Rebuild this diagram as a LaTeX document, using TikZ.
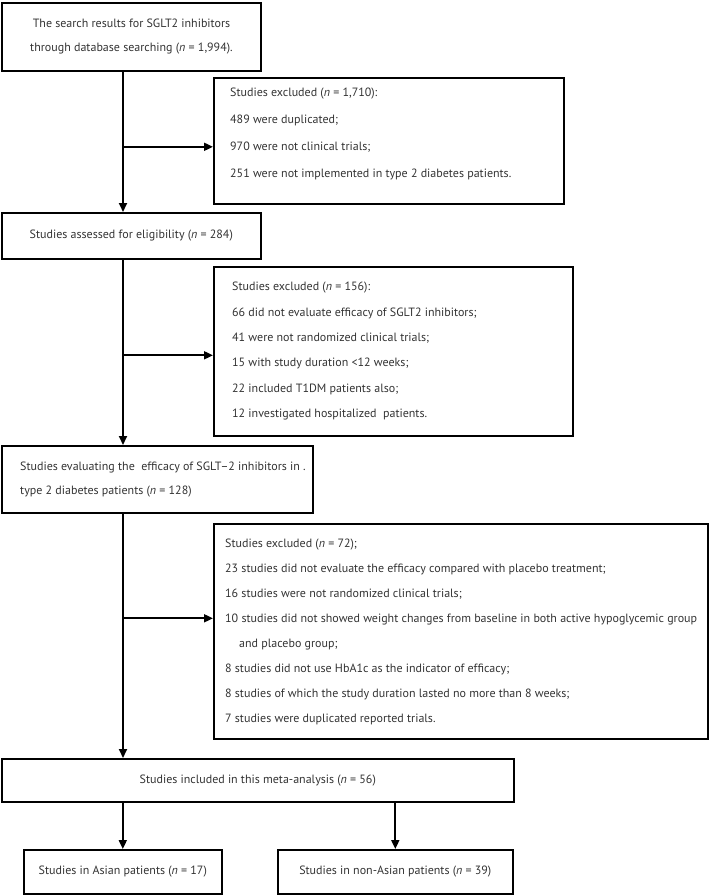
\documentclass[tikz,border=0pt]{standalone}
\usepackage{fontspec}
\setmainfont{PT Sans}
\usetikzlibrary{arrows.meta}
\tikzset{
    box/.style={draw,line width=1.6pt,inner sep=0pt,anchor=north west,text=black!80,font=\fontsize{12}{24}\selectfont},
    txt/.style={text=black!80,inner sep=0pt,anchor=north west,align=left},
    arr/.style={line width=1.8pt,-{Triangle[length=9pt,width=8pt]}},
}
\begin{document}
\begin{tikzpicture}[x=1pt,y=-1pt]
        \useasboundingbox (0,0) rectangle (709,895);
        \coordinate (trunk) at (123,0);
        \node[box,minimum width=259,minimum height=68,align=center,line width=2pt] (search) at (1,2) {The search results for SGLT2 inhibitors\\through database searching (\textit{n} = 1,994).};
        \node[box,minimum width=350,minimum height=126] (excl1) at (213,77) {};
        \node[txt,font=\fontsize{12}{27}\selectfont] (excl1t) at (230,88) {Studies excluded (\textit{n} = 1,710):\\489 were duplicated;\\970 were not clinical trials;\\251 were not implemented in type 2 diabetes patients.};
        \node[box,minimum width=259,minimum height=46] (assessed) at (1,212) {Studies assessed for eligibility (\textit{n} = 284)};
        \node[box,minimum width=359,minimum height=169] (excl2) at (213,266) {};
        \node[txt,font=\fontsize{12}{25.4}\selectfont] (excl2t) at (232,282) {Studies excluded (\textit{n} = 156):\\66 did not evaluate efficacy of SGLT2 inhibitors;\\41 were not randomized clinical trials;\\15 with study duration <12 weeks;\\22 included T1DM patients also;\\12 investigated hospitalized\ \ patients.};
        \node[box,minimum width=311,minimum height=67] (evaluated) at (1,445) {};
        \node[txt,font=\fontsize{12}{24}\selectfont] (evaluatedt) at (20,462) {Studies evaluating the\ \ efficacy of SGLT--2 inhibitors in .\\type 2 diabetes patients (\textit{n} = 128)};
        \node[box,minimum width=494,minimum height=215] (excl3) at (213,523) {};
        \node[txt,font=\fontsize{12}{24.9}\selectfont] (excl3t) at (225,539) {Studies excluded (\textit{n} = 72);\\23 studies did not evaluate the efficacy compared with placebo treatment;\\16 studies were not randomized clinical trials;\\\makebox[472pt][s]{10 studies did not showed weight changes from baseline in both active hypoglycemic group}\\\hspace*{14pt}and placebo group;\\8 studies did not use HbA1c as the indicator of efficacy;\\8 studies of which the study duration lasted no more than 8 weeks;\\7 studies were duplicated reported trials.};
        \node[box,minimum width=512,minimum height=43] (included) at (1,758) {Studies included in this meta-analysis (\textit{n} = 56)};
        \node[box,minimum width=198,minimum height=44] (asian) at (23,849) {Studies in Asian patients (\textit{n} = 17)};
        \node[box,minimum width=235,minimum height=44] (nonasian) at (277,849) {Studies in non-Asian patients (\textit{n} = 39)};
        \coordinate (j1) at ([yshift=-6pt]excl1.west);
        \coordinate (j2) at ([yshift=-4pt]excl2.west);
        \coordinate (j3) at ([yshift=13pt]excl3.west);
        \draw[arr] (search.south -| trunk) -- (assessed.north -| trunk);
        \draw[arr] (j1 -| trunk) -- (j1);
        \draw[arr] (assessed.south -| trunk) -- (evaluated.north -| trunk);
        \draw[arr] (j2 -| trunk) -- (j2);
        \draw[arr] (evaluated.south -| trunk) -- (included.north -| trunk);
        \draw[arr] (j3 -| trunk) -- (j3);
        \draw[arr] (included.south -| asian.north) -- (asian.north);
        \draw[arr] (included.south -| nonasian.north) -- (nonasian.north);
    \end{tikzpicture}
\end{document}
